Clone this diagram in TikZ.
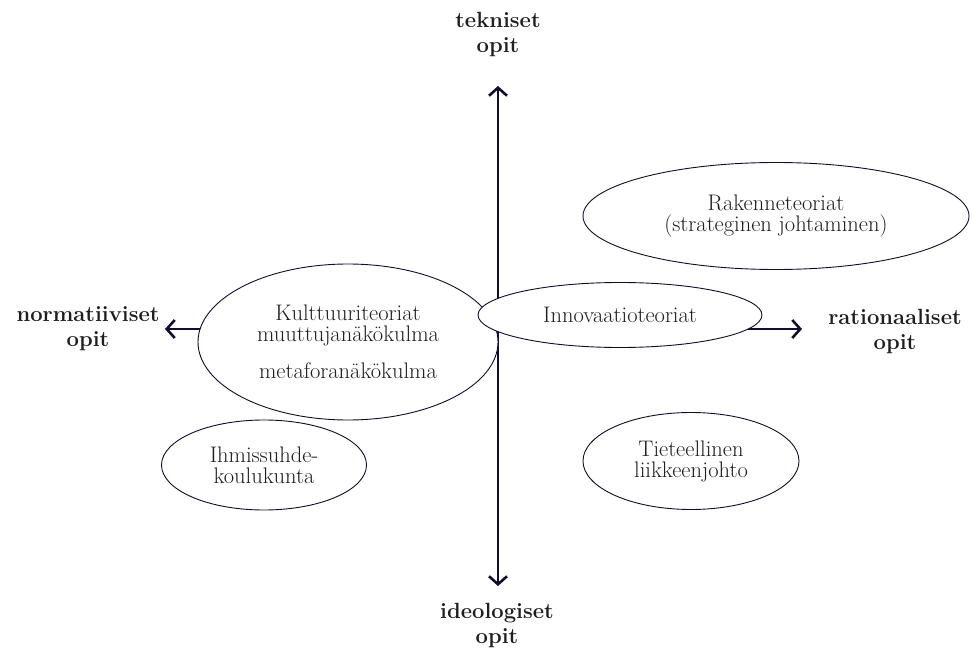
\documentclass[tikz,border=0pt]{standalone}
\usetikzlibrary{shapes.geometric,arrows.meta}
\definecolor{axiscol}{HTML}{140C2E}
\definecolor{txtcol}{HTML}{1E1E1E}
\begin{document}
\begin{tikzpicture}[x=1pt,y=-1pt,
  axisline/.style={draw=axiscol,line width=2.6pt,{Straight Barb[length=8pt,width=18pt]}-{Straight Barb[length=8pt,width=18pt]}},
  oval/.style={ellipse,draw=axiscol,line width=0.9pt,fill=white,inner sep=0pt,align=center,text=txtcol,font=\fontsize{22.5}{21}\selectfont},
  axislabel/.style={align=center,text=txtcol,font=\fontsize{22}{25}\selectfont\bfseries}]
\useasboundingbox (0,0) rectangle (972,655);
\fill[white] (0,0) rectangle (972,655);
% axis end points
\coordinate (top) at (498,86);
\coordinate (bot) at (498,586);
\coordinate (lft) at (165,329);
\coordinate (rgt) at (802,329);
\draw[axisline] (top) -- (bot);
\draw[axisline] (lft) -- (rgt);
% axis labels
\node[axislabel] (tek) at (498,35) {tekniset\\opit};
\node[axislabel] (ide) at (497,625) {ideologiset\\opit};
\node[axislabel] (nor) at (88,329) {normatiiviset\\opit};
\node[axislabel] (rat) at (895,331) {rationaaliset\\opit};
% ellipses
\node[oval,minimum width=386pt,minimum height=107pt] (rak) at (776,216) {Rakenneteoriat\\(strateginen johtaminen)};
\node[oval,minimum width=300pt,minimum height=156pt] (kul) at (348,342) {Kulttuuriteoriat\\muuttujanäkökulma\\[16pt]metaforanäkökulma};
\node[oval,minimum width=284pt,minimum height=65pt] (inn) at (620,315) {Innovaatioteoriat};
\node[oval,minimum width=205pt,minimum height=90pt] (ihm) at (264,465) {Ihmissuhde-\\koulukunta};
\node[oval,minimum width=216pt,minimum height=97pt] (tie) at (691,461) {Tieteellinen\\liikkeenjohto};
\end{tikzpicture}
\end{document}
